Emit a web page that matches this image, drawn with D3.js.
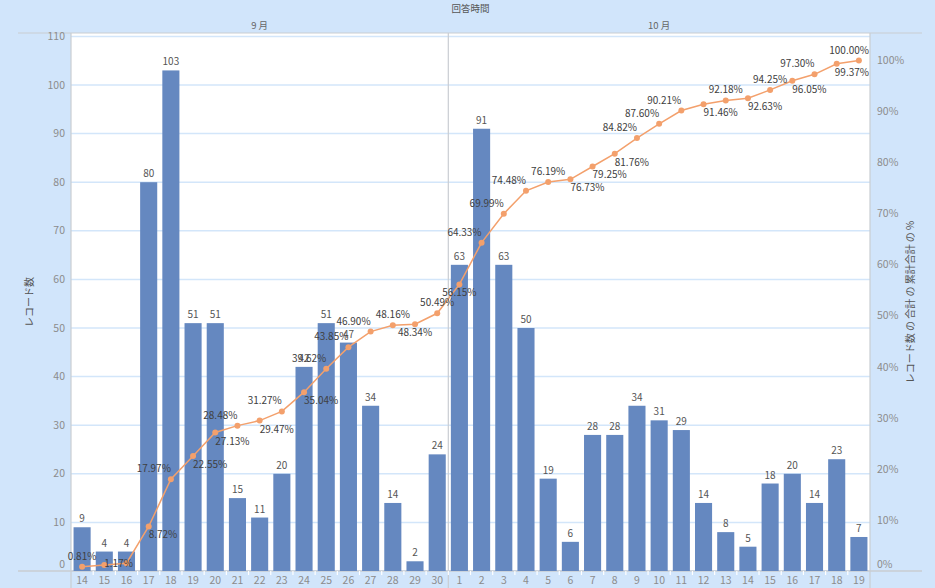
<!DOCTYPE html>
<html><head><meta charset="utf-8">
<script src="https://cdn.jsdelivr.net/npm/d3@7"></script>
<style>
html,body{margin:0;padding:0;background:#d1e5fb;}
svg{display:block;font-family:"Noto Sans CJK JP","Noto Sans",sans-serif;}
</style></head>
<body>
<svg id="chart" width="935" height="588"></svg>
<script>
const dimTitle = "回答時間";
const months = ["9 月", "10 月"];
const sepDays = ["14","15","16","17","18","19","20","21","22","23","24","25","26","27","28","29","30"];
const octDays = ["1","2","3","4","5","6","7","8","9","10","11","12","13","14","15","16","17","18","19"];
const sepCounts = [9,4,4,80,103,51,51,15,11,20,42,51,47,34,14,2,24];
const octCounts = [63,91,63,50,19,6,28,28,34,31,29,14,8,5,18,20,14,23,7];
const cumPct = [0.81,1.17,1.53,8.72,17.97,22.55,27.13,28.48,29.47,31.27,35.04,39.62,43.85,46.90,48.16,48.34,50.49,
                56.15,64.33,69.99,74.48,76.19,76.73,79.25,81.76,84.82,87.60,90.21,91.46,92.18,92.63,94.25,96.05,97.30,99.37,100.00];
const leftTicks = [0,10,20,30,40,50,60,70,80,90,100,110];
const rightTicks = [0,10,20,30,40,50,60,70,80,90,100];
const leftTitle = "レコード数";
const rightTitle = "レコード数 の 合計 の 累計合計 の %";
// label placement: a = above centred, al = above ending at point, b = below centred, br = below starting at point, n = hidden
const labelPlacement = ["a","br","n","br","al","br","br","al","br","al","br","al","al","al","a","b","a",
                        "b","al","al","al","a","br","br","br","al","al","al","br","a","br","a","br","al","br","a"];

const rows = [];
sepDays.forEach((d,i)=>rows.push({key:"9-"+d, day:d, month:0, count:sepCounts[i]}));
octDays.forEach((d,i)=>rows.push({key:"10-"+d, day:d, month:1, count:octCounts[i]}));
rows.forEach((r,i)=>{r.pct = cumPct[i]; r.place = labelPlacement[i];});

const svg = d3.select("#chart");
const L = 71, R = 870, T = 33, B = 571;
const x = d3.scaleBand().domain(rows.map(r=>r.key)).range([L,R]).paddingInner(0.23).paddingOuter(0.115);
const yL = d3.scaleLinear().domain([0, 110.7]).range([B,T]);
const yR = d3.scaleLinear().domain([0, 105.4]).range([B,T]);

// plot background
svg.append("rect").attr("x",L).attr("y",T).attr("width",R-L).attr("height",B-T).attr("fill","#ffffff");

// gridlines (left axis)
svg.append("g").selectAll("line").data(leftTicks).join("line")
  .attr("x1",L-4).attr("x2",R).attr("y1",d=>yL(d)).attr("y2",d=>yL(d))
  .attr("stroke","#d3e6fa").attr("stroke-width",1.5);
// right ticks
svg.append("g").selectAll("line").data(rightTicks).join("line")
  .attr("x1",R).attr("x2",R+4).attr("y1",d=>yR(d)).attr("y2",d=>yR(d))
  .attr("stroke","#d3e6fa").attr("stroke-width",1.5);

// frame lines
const gray = "#c9cdd2";
svg.append("line").attr("x1",18).attr("x2",922).attr("y1",T).attr("y2",T).attr("stroke",gray).attr("stroke-width",1.2);
svg.append("line").attr("x1",18).attr("x2",922).attr("y1",B).attr("y2",B).attr("stroke",gray).attr("stroke-width",1.5);
svg.append("line").attr("x1",L).attr("x2",L).attr("y1",T).attr("y2",588).attr("stroke",gray).attr("stroke-width",1.2);
svg.append("line").attr("x1",R).attr("x2",R).attr("y1",T).attr("y2",588).attr("stroke",gray).attr("stroke-width",1.2);
const divX = x("10-1") - x.step()*x.paddingInner()/2;
svg.append("line").attr("x1",divX).attr("x2",divX).attr("y1",T).attr("y2",588).attr("stroke",gray).attr("stroke-width",1.2);

// x tick marks (between categories)
svg.append("g").selectAll("line").data(rows.slice(1)).join("line")
  .attr("x1",d=>x(d.key)-x.step()*x.paddingInner()/2).attr("x2",d=>x(d.key)-x.step()*x.paddingInner()/2)
  .attr("y1",B).attr("y2",B+4).attr("stroke","#ffffff").attr("stroke-width",1.2);

// header
svg.append("text").attr("x",(L+R)/2).attr("y",12).attr("text-anchor","middle")
  .attr("font-size",9.5).attr("fill","#555").text(dimTitle);
months.forEach((m,i)=>{
  const ks = rows.filter(r=>r.month===i);
  const x0 = x(ks[0].key) - (i===0 ? x.step()*x.paddingOuter() : x.step()*x.paddingInner()/2);
  const last = ks[ks.length-1];
  const x1 = x(last.key) + x.bandwidth() + (i===1 ? x.step()*x.paddingOuter() : x.step()*x.paddingInner()/2);
  svg.append("text").attr("x",(x0+x1)/2).attr("y",29).attr("text-anchor","middle")
    .attr("font-size",9.5).attr("fill","#666").text(m);
});

// axes labels
svg.append("g").selectAll("text").data(leftTicks).join("text")
  .attr("x",L-6).attr("y",d=>Math.min(yL(d), B-7)).attr("dy","0.35em").attr("text-anchor","end")
  .attr("font-size",10.5).attr("fill","#8c8c8c").text(d=>d);
svg.append("g").selectAll("text").data(rightTicks).join("text")
  .attr("x",R+7).attr("y",d=>Math.min(yR(d), B-7)).attr("dy","0.35em").attr("text-anchor","start")
  .attr("font-size",10.5).attr("fill","#8c8c8c").text(d=>d+"%");
svg.append("g").selectAll("text").data(rows).join("text")
  .attr("x",d=>x(d.key)+x.bandwidth()/2).attr("y",B+13).attr("text-anchor","middle")
  .attr("font-size",10.5).attr("fill","#8c8c8c").text(d=>d.day);

svg.append("text").attr("transform",`translate(33,${(T+B)/2}) rotate(-90)`)
  .attr("text-anchor","middle").attr("font-size",10).attr("fill","#555").text(leftTitle);
svg.append("text").attr("transform",`translate(914,${(T+B)/2}) rotate(-90)`)
  .attr("text-anchor","middle").attr("font-size",10).attr("fill","#555").text(rightTitle);

// bars
svg.append("g").selectAll("rect").data(rows).join("rect")
  .attr("x",d=>x(d.key)).attr("width",x.bandwidth())
  .attr("y",d=>yL(d.count)).attr("height",d=>B-yL(d.count))
  .attr("fill","#6588c0");
svg.append("g").selectAll("text").data(rows).join("text")
  .attr("x",d=>x(d.key)+x.bandwidth()/2).attr("y",d=>yL(d.count)-5)
  .attr("text-anchor","middle").attr("font-size",10).attr("fill","#555").text(d=>d.count);

// line
const cx = d=>x(d.key)+x.bandwidth()/2;
svg.append("path").datum(rows)
  .attr("d",d3.line().x(cx).y(d=>yR(d.pct)))
  .attr("fill","none").attr("stroke","#f3a06c").attr("stroke-width",1.5);
svg.append("g").selectAll("circle").data(rows).join("circle")
  .attr("cx",cx).attr("cy",d=>yR(d.pct)).attr("r",3).attr("fill","#f3a06c");

// percent labels
svg.append("g").selectAll("text").data(rows.filter(r=>r.place!=="n")).join("text")
  .attr("font-size",10).attr("fill","#404040")
  .text(d=>d.pct.toFixed(2)+"%")
  .each(function(d){
    const t = d3.select(this);
    const px = cx(d), py = yR(d.pct);
    const above = d.place[0]==="a";
    let yy = above ? py-7 : py+12;
    yy = Math.min(yy, B-4);
    let anchor = "middle", xx = px;
    if (d.place==="al") {anchor="end";}
    if (d.place==="br") {anchor="start";}
    t.attr("x",xx).attr("y",yy).attr("text-anchor",anchor);
    const bb = this.getBBox();
    if (bb.x + bb.width > R-1) t.attr("text-anchor","end").attr("x",R-1);
  });
</script>
</body></html>
